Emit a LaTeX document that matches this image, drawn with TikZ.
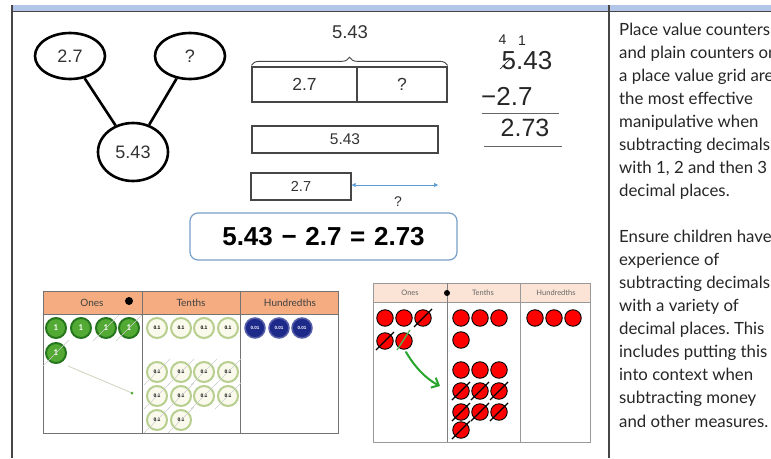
\documentclass[tikz,border=0pt]{standalone}
\usepackage{fontspec}
\setmainfont{Liberation Sans}
\newfontfamily\notefont{Lato}
\usepackage{xcolor}
\usetikzlibrary{arrows.meta,positioning,shapes.geometric,decorations.pathreplacing,calc}

\definecolor{frameblue}{RGB}{180,198,231}
\definecolor{framegrey}{RGB}{70,70,70}
\definecolor{eqblue}{RGB}{120,160,200}
\definecolor{arrowblue}{RGB}{91,155,213}
\definecolor{headorange}{RGB}{245,172,128}
\definecolor{headpeach}{RGB}{251,228,213}
\definecolor{onegreen}{RGB}{82,170,52}
\definecolor{onerim}{RGB}{38,118,30}
\definecolor{tenthfill}{RGB}{249,250,236}
\definecolor{tenthrim}{RGB}{184,206,142}
\definecolor{hundblue}{RGB}{30,42,138}
\definecolor{crossgrey}{RGB}{205,205,205}
\definecolor{swoosh}{RGB}{40,165,45}
\definecolor{faintline}{RGB}{205,214,190}

\frenchspacing
\begin{document}
\begin{tikzpicture}[x=1pt, y=-1pt,
  part/.style={draw, ellipse, line width=2.6pt, minimum width=70pt, minimum height=46pt, inner sep=0pt, text=black!80, font=\fontsize{18}{18}\selectfont},
  barbox/.style={draw=framegrey, line width=1.3pt, inner sep=0pt, text=black!80},
  colnum/.style={inner sep=0pt, text=black!85, font=\fontsize{26}{26}\selectfont},
  carry/.style={inner sep=0pt, text=black!85, font=\fontsize{14}{14}\selectfont},
  eqbox/.style={draw=eqblue, line width=1.2pt, rounded corners=8pt, minimum width=267pt, minimum height=47pt, font=\bfseries\fontsize{26}{26}\selectfont},
  note/.style={anchor=base west, inner sep=0pt, text=black!85, font=\notefont\fontsize{16.8}{16.8}\selectfont},
  head/.style={inner sep=0pt, text=black!75, font=\notefont\fontsize{10}{10}\selectfont},
  smallhead/.style={inner sep=0pt, text=black!60, font=\notefont\fontsize{7.5}{7.5}\selectfont},
  onec/.style={circle, draw=onerim, fill=onegreen, line width=2pt, minimum size=20pt, inner sep=0pt, text=white, font=\notefont\bfseries\fontsize{8}{8}\selectfont},
  tenthc/.style={circle, draw=tenthrim, fill=tenthfill, line width=2pt, minimum size=20pt, inner sep=0pt, font=\bfseries\fontsize{5}{5}\selectfont},
  hundc/.style={circle, draw=hundblue!75, fill=hundblue, line width=1.5pt, minimum size=20pt, inner sep=0pt, text=white, font=\bfseries\fontsize{4.5}{4.5}\selectfont},
  redc/.style={circle, draw=black, fill=red, line width=0.9pt, minimum size=16.5pt, inner sep=0pt},
  gridline/.style={draw=black!55, line width=1pt}
]
\useasboundingbox (0,0) rectangle (771,458);
\fill[white] (0,0) rectangle (771,458);

% page frame
\fill[frameblue] (12,5) rectangle (771,11);
\draw[framegrey, line width=1pt] (12,11) -- (771,11);
\draw[framegrey, line width=1.2pt] (12,5) -- (12,458);
\draw[framegrey, line width=1.2pt] (609,5) -- (609,458);

% part-whole model
\node [part] (partA) at (70,56) {2.7};
\node [part] (partB) at (190,56) {?};
\node [part, minimum height=58pt] (whole) at (133,152) {5.43};
\draw [line width=2.6pt] (partA) -- (whole);
\draw [line width=2.6pt] (partB) -- (whole);

% bar models
\node [barbox, minimum width=105pt, minimum height=35pt, font=\fontsize{17.5}{17.5}\selectfont] (barA) at (304.5,84.5) {2.7};
\node [barbox, minimum width=90pt, minimum height=35pt, font=\fontsize{17.5}{17.5}\selectfont] (barB) at (402,84.5) {?};
\draw [framegrey, line width=0.9pt, decorate, decoration={brace, amplitude=8pt, raise=1pt}] (barA.north west) -- (barB.north east);
\node [inner sep=0pt, text=black!80, font=\fontsize{18.5}{18.5}\selectfont] (total) at (350,32) {5.43};
\node [barbox, minimum width=186pt, minimum height=27pt, font=\fontsize{15.5}{15.5}\selectfont] (barW) at (345,139.5) {5.43};
\node [barbox, minimum width=100pt, minimum height=27pt, font=\fontsize{14.5}{14.5}\selectfont] (barP) at (301,186.5) {2.7};
\coordinate (gapend) at (438,185);
\draw [arrowblue, line width=0.6pt, {Triangle[length=4pt,width=4pt]}-{Triangle[length=4pt,width=4pt]}] (barP.east |- gapend) -- (gapend);
\node [inner sep=0pt, text=black!80, font=\fontsize{14}{14}\selectfont] (gapq) at (398,202) {?};

% column method
\node [carry] (carryA) at (502.5,40) {4};
\node [carry] (carryB) at (522,41) {1};
\node [colnum] (topnum) at (527,61) {5.43};
\draw [black!80, line width=0.7pt] (500,69) -- (511,58);
\node [colnum, anchor=west] (subnum) at (481,96) {−2.7};
\draw [black!60, line width=1pt] (482,113) -- (559,113);
\node [colnum, font=\fontsize{25}{25}\selectfont] (ansnum) at (525,128) {2.73};
\draw [black!60, line width=1pt] (484,146) -- (562,146);

% equation
\node [eqbox] (eq) at (323.5,236.5) {5.43\,\,−\,\,2.7\,\,=\,\,2.73};

% place value grid with counters
\fill[headorange] (43,291) rectangle (338,314);
\draw[gridline] (43,291) rectangle (338,433);
\draw[gridline] (43,314) -- (338,314);
\draw[gridline] (142,291) -- (142,433);
\draw[gridline] (240,291) -- (240,433);
\node [head] (hOnes) at (92,302.5) {Ones};
\node [head] (hTenths) at (191,302.5) {Tenths};
\node [head] (hHund) at (290,302.5) {Hundredths};
\fill (129,301) circle (4);
\foreach \n/\x/\y in {1/56/328, 2/81/328, 3/106/328, 4/129/328, 5/56/353}
  \node [onec] (one\n) at (\x,\y) {1};
\foreach \n/\x/\y in {1/157/328, 2/181/328, 3/204/328, 4/228/328,
                      5/157/372, 6/181/372, 7/204/372, 8/228/372,
                      9/157/396, 10/181/396, 11/204/396, 12/228/396,
                      13/157/420, 14/181/420}
  \node [tenthc] (tenth\n) at (\x,\y) {0.1};
\foreach \n/\x in {1/255, 2/279, 3/302}
  \node [hundc] (hund\n) at (\x,328) {0.01};
\foreach \c in {one3, one4, one5, tenth5, tenth6, tenth7, tenth8, tenth9, tenth10, tenth11, tenth12, tenth13, tenth14}
  \draw [crossgrey, line width=0.6pt] ($(\c)+(-13,13)$) -- ($(\c)+(13,-13)$);
\coordinate (faintA) at (68,366);
\coordinate (faintB) at (132,393);
\draw [faintline, line width=0.8pt] (faintA) -- (faintB);
\fill [onegreen] (faintB) circle (1.5);

% place value grid with plain counters
\fill[headpeach] (373,283) rectangle (590,302);
\draw[gridline, draw=black!40] (373,283) rectangle (590,442);
\draw[gridline, draw=black!40] (373,302) -- (590,302);
\draw[gridline, draw=black!50] (447,283) -- (447,442);
\draw[gridline, draw=black!40] (520,283) -- (520,442);
\node [smallhead] (sOnes) at (410,293) {Ones};
\node [smallhead] (sTenths) at (483,293) {Tenths};
\node [smallhead] (sHund) at (556,293) {Hundredths};
\fill (447,293) circle (3);
\foreach \n/\x/\y in {1/385/318, 2/404/318, 3/423/318, 4/385/341, 5/404/341}
  \node [redc] (r\n) at (\x,\y) {};
\foreach \n/\x/\y in {1/461/318, 2/480/318, 3/499/318, 4/461/340,
                      5/461/370, 6/480/370, 7/499/370,
                      8/461/391, 9/480/391, 10/499/391,
                      11/461/412, 12/480/412, 13/499/412,
                      14/461/430}
  \node [redc] (rt\n) at (\x,\y) {};
\foreach \n/\x in {1/535, 2/554, 3/573}
  \node [redc] (rh\n) at (\x,318) {};
\foreach \c in {r3, r4, rt8, rt9, rt10, rt11, rt12, rt13, rt14}
  \draw [black, line width=1.1pt] ($(\c)+(-9,9)$) -- ($(\c)+(9,-9)$);
\draw [swoosh!80, line width=1.3pt] ($(r5)+(-7,9)$) -- ($(r5)+(6,-11)$);
\coordinate (swooshA) at (406,352);
\coordinate (swooshB) at (440,386);
\draw [swoosh, line width=2pt, line cap=round, -{Straight Barb[length=6pt,width=11pt]}] (swooshA) .. controls (414,366) and (426,379) .. (swooshB);

% notes
\begin{scope}
\clip (610,0) rectangle (771,458);
\foreach \n/\t in {0/Place value counters, 1/and plain counters on, 2/a place value grid are,
                   3/the most effective, 4/manipulative when, 5/subtracting decimals,
                   6/{with 1, 2 and then 3}, 7/decimal places.,
                   9/Ensure children have, 10/experience of, 11/subtracting decimals,
                   12/with a variety of, 13/decimal places. This, 14/includes putting this,
                   15/into context when, 16/subtracting money, 17/and other measures.}
  \node [note] (note\n) at (619,{35+23.06*\n}) {\t};
\end{scope}
\end{tikzpicture}
\end{document}
